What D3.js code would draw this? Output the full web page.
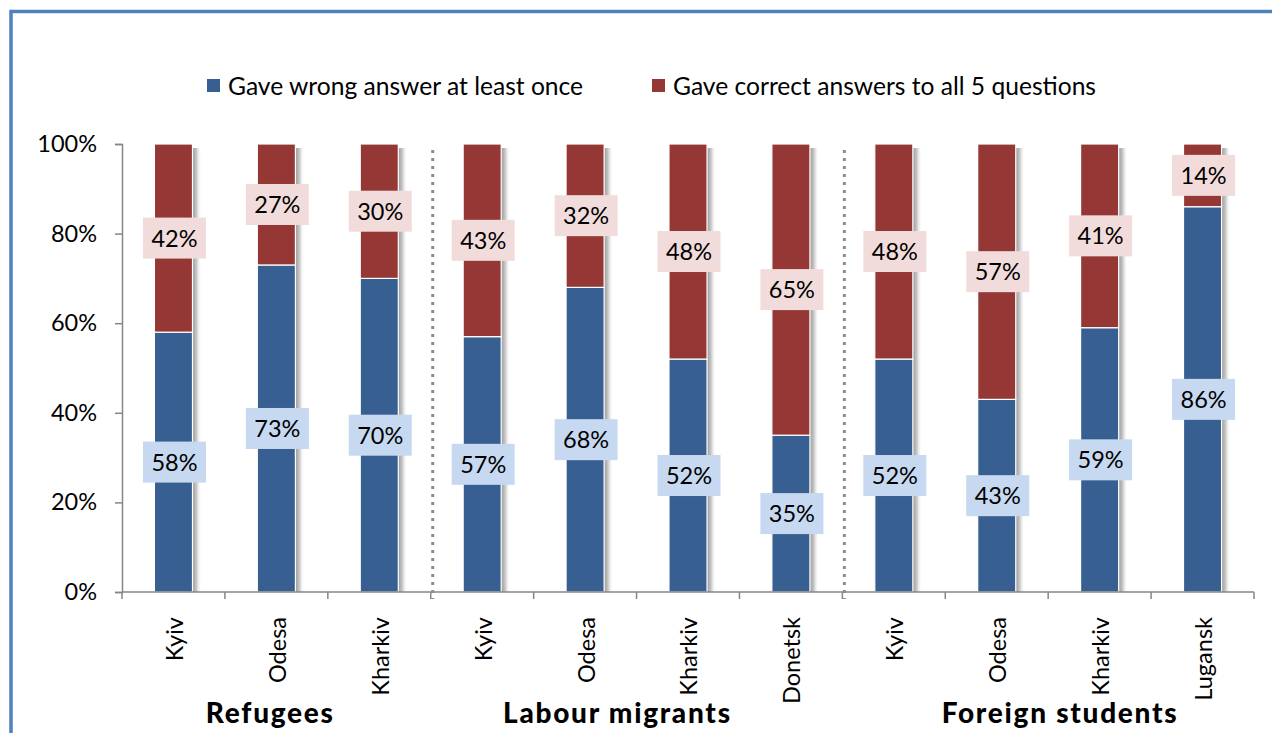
<!DOCTYPE html>
<html>
<head>
<meta charset="utf-8">
<script src="https://cdn.jsdelivr.net/npm/d3@7/dist/d3.min.js"></script>
<style>
  html, body { margin: 0; padding: 0; background: #fff; }
  svg { display: block; }
  text { font-family: Lato, "Open Sans", sans-serif; fill: #000; }
</style>
</head>
<body>
<svg id="chart" width="1272" height="733"></svg>
<script>
// Survey groups, cities and the share of respondents in each answer category (%)
const groups = ["Refugees", "Labour migrants", "Foreign students"];
const cities = [
  ["Kyiv", "Odesa", "Kharkiv"],
  ["Kyiv", "Odesa", "Kharkiv", "Donetsk"],
  ["Kyiv", "Odesa", "Kharkiv", "Lugansk"]
];
const wrongAnswer   = [58, 73, 70, 57, 68, 52, 35, 52, 43, 59, 86];
const correctAnswer = [42, 27, 30, 43, 32, 48, 65, 48, 57, 41, 14];
const seriesNames = ["Gave wrong answer at least once", "Gave correct answers to all 5 questions"];
const yTicks = [0, 20, 40, 60, 80, 100];

const colors = { wrong: "#385f91", correct: "#953735" };
const labelFill = { wrong: "#c6d9f1", correct: "#f2dcdb" };

// Flatten groups/cities into one row per bar
const rows = [];
cities.forEach((list, g) => list.forEach(city => {
  const i = rows.length;
  rows.push({ id: g + "|" + city, group: g, city, wrong: wrongAnswer[i], correct: correctAnswer[i] });
}));

const svg = d3.select("#chart");
const margin = { left: 122, right: 18, top: 144, bottom: 141 };
const W = 1272, H = 733;

const x = d3.scaleBand().domain(rows.map(d => d.id))
  .range([margin.left, W - margin.right]).padding(0);
const y = d3.scaleLinear().domain([0, 100]).range([H - margin.bottom, margin.top]);
const bw = x.bandwidth();
const barW = bw * 0.37;
const barX = d => x(d.id) + (bw - barW) / 2;

// Outer frame
svg.append("rect").attr("x", 11).attr("y", 11.5).attr("width", W + 20).attr("height", H + 20)
  .attr("fill", "none").attr("stroke", "#4f81bd").attr("stroke-width", 3.5);

// Shadow gradient on the right side of each bar
const defs = svg.append("defs");
const grad = defs.append("linearGradient").attr("id", "shade").attr("x1", 0).attr("x2", 1);
grad.append("stop").attr("offset", 0).attr("stop-color", "#9a9a9a");
grad.append("stop").attr("offset", 0.45).attr("stop-color", "#c8c8c8");
grad.append("stop").attr("offset", 1).attr("stop-color", "#ffffff").attr("stop-opacity", 0);

// Legend
const legend = svg.append("g");
const legendItems = [
  { name: seriesNames[0], color: colors.wrong, x: 207 },
  { name: seriesNames[1], color: colors.correct, x: 652 }
];
legendItems.forEach(it => {
  legend.append("rect").attr("x", it.x).attr("y", 79).attr("width", 13).attr("height", 13).attr("fill", it.color);
  legend.append("text").attr("x", it.x + 21).attr("y", 94.5).attr("font-size", 24.6).text(it.name);
});

// Bars with shadows
const bars = svg.append("g");
bars.selectAll("rect.shadow").data(rows).join("rect").attr("class", "shadow")
  .attr("x", d => barX(d) + barW).attr("y", y(100) + 4)
  .attr("width", 9).attr("height", y(0) - y(100) - 4)
  .attr("fill", "url(#shade)");
bars.selectAll("rect.wrong").data(rows).join("rect").attr("class", "wrong")
  .attr("x", barX).attr("width", barW)
  .attr("y", d => y(d.wrong)).attr("height", d => y(0) - y(d.wrong))
  .attr("fill", colors.wrong).attr("stroke", "#fff").attr("stroke-width", 1.2);
bars.selectAll("rect.correct").data(rows).join("rect").attr("class", "correct")
  .attr("x", barX).attr("width", barW)
  .attr("y", d => y(d.wrong + d.correct)).attr("height", d => y(d.wrong) - y(d.wrong + d.correct))
  .attr("fill", colors.correct).attr("stroke", "#fff").attr("stroke-width", 1.2);

// Y axis
const yAxis = svg.append("g").attr("transform", `translate(${margin.left},0)`)
  .call(d3.axisLeft(y).tickValues(yTicks).tickFormat(d => d + "%").tickSize(7).tickPadding(18));
yAxis.select(".domain").attr("stroke", "#868686").attr("stroke-width", 1.5);
yAxis.selectAll(".tick line").attr("stroke", "#868686").attr("stroke-width", 1.5);
yAxis.selectAll(".tick text").attr("font-size", 23.5).attr("font-family", "Lato").attr("fill", "#000");

// X axis line with ticks at category boundaries
const xAxis = svg.append("g");
xAxis.append("line").attr("x1", margin.left).attr("x2", W - margin.right)
  .attr("y1", y(0)).attr("y2", y(0)).attr("stroke", "#868686").attr("stroke-width", 1.5);
const bounds = rows.map(d => x(d.id)).concat([x(rows[rows.length - 1].id) + bw]);
xAxis.selectAll("line.tk").data(bounds).join("line").attr("class", "tk")
  .attr("x1", d => d).attr("x2", d => d).attr("y1", y(0)).attr("y2", y(0) + 7)
  .attr("stroke", "#868686").attr("stroke-width", 1.5);

// Dotted separators between groups
const groupStarts = groups.map((g, gi) => rows.find(r => r.group === gi));
svg.selectAll("line.sep").data(groupStarts.slice(1)).join("line").attr("class", "sep")
  .attr("x1", d => x(d.id) + 2).attr("x2", d => x(d.id) + 2)
  .attr("y1", y(100) + 6).attr("y2", y(0) + 7)
  .attr("stroke", "#8c8c8c").attr("stroke-width", 3).attr("stroke-dasharray", "3,5");

// Value labels on boxed backgrounds
function valueLabel(sel, key, mid) {
  const g = sel.append("g").attr("transform", d => `translate(${x(d.id) + bw / 2 + 1},${mid(d)})`);
  g.append("rect").attr("x", -31.5).attr("y", -20.5).attr("width", 63).attr("height", 41).attr("fill", labelFill[key]);
  g.append("text").attr("text-anchor", "middle").attr("dy", "0.36em").attr("font-size", 23.5)
    .text(d => d[key] + "%");
}
const lbl = svg.append("g").selectAll("g").data(rows).join("g");
valueLabel(lbl, "wrong", d => y(d.wrong / 2));
valueLabel(lbl, "correct", d => y(d.wrong + d.correct / 2));

// City labels, rotated
svg.append("g").selectAll("text").data(rows).join("text")
  .attr("transform", d => `translate(${x(d.id) + bw / 2 + 1},617) rotate(-90)`)
  .attr("text-anchor", "end").attr("dy", "0.36em").attr("font-size", 23.5)
  .text(d => d.city);

// Group titles
const groupCenters = groups.map((g, gi) => {
  const rs = rows.filter(r => r.group === gi);
  return (x(rs[0].id) + x(rs[rs.length - 1].id) + bw) / 2;
});
const groupShift = [-7, -20, 11];
const groupWidth = [127, 227, 235];
svg.append("g").selectAll("text").data(groups).join("text")
  .attr("x", (d, i) => groupCenters[i] + groupShift[i]).attr("y", 723)
  .attr("text-anchor", "middle").attr("font-size", 28).attr("font-weight", 900)
  .attr("font-family", "Lato")
  .attr("textLength", (d, i) => groupWidth[i]).attr("lengthAdjust", "spacing")
  .text(d => d);
</script>
</body>
</html>
